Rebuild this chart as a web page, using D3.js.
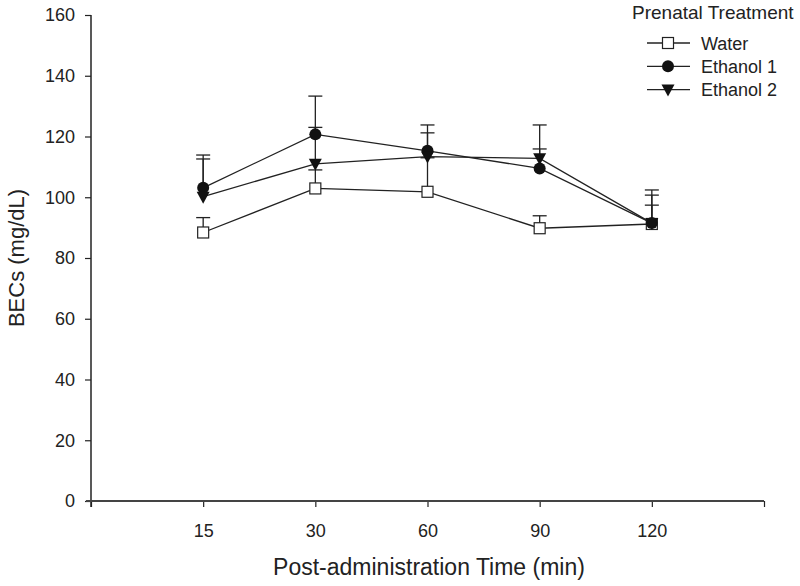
<!DOCTYPE html>
<html><head><meta charset="utf-8">
<script src="https://cdn.jsdelivr.net/npm/d3@7"></script>
<style>body{margin:0;background:#fff}svg{display:block}text{font-family:"Liberation Sans",Arial,sans-serif;fill:#222}</style>
</head><body><svg id="c" width="800" height="586"></svg>
<script>
const categories = ["15","30","60","90","120"];
const yTicks = [0,20,40,60,80,100,120,140,160];
const seriesNames = ["Water","Ethanol 1","Ethanol 2"];
const waterMean = [88.4,102.9,101.8,89.8,91.2];
const waterErr  = [93.3,109,113,93.9,97.4];
const eth1Mean  = [103.1,120.7,115.3,109.5,91.5];
const eth1Err   = [113.9,133.3,123.8,115.9,102.4];
const eth2Mean  = [100.2,111,113.4,112.8,91.5];
const eth2Err   = [112.6,123,121.2,123.8,100.7];

const svg = d3.select("#c");
const x0 = 91, x1 = 764, yTop = 15, yBot = 501;
const x = d3.scalePoint().domain(["", ...categories, " "]).range([x0, x1]);
const y = d3.scaleLinear().domain([0,160]).range([yBot, yTop]);

// axes
const yAxis = svg.append("g").attr("transform",`translate(${x0},0)`)
  .call(d3.axisLeft(y).tickValues(yTicks).tickSize(6).tickPadding(10));
yAxis.select(".domain").remove();
yAxis.append("line").attr("x1",0).attr("x2",0).attr("y1",yTop).attr("y2",yBot+6).attr("stroke","#222").attr("stroke-width",1.5);
yAxis.selectAll(".tick line").attr("stroke","#222").attr("stroke-width",1.2);
yAxis.selectAll(".tick text").style("font-size","18px").attr("fill","#222");

const xAxis = svg.append("g").attr("transform",`translate(0,${yBot})`)
  .call(d3.axisBottom(x).tickSize(6).tickPadding(17));
xAxis.select(".domain").remove();
xAxis.append("line").attr("x1",x0-5).attr("x2",x1).attr("y1",0).attr("y2",0).attr("stroke","#444").attr("stroke-width",2);
xAxis.selectAll(".tick line").attr("stroke","#222").attr("stroke-width",1.2);
xAxis.selectAll(".tick text").style("font-size","18px").attr("fill","#222");

svg.append("text").attr("x",429).attr("y",575).attr("text-anchor","middle").style("font-size","23px").text("Post-administration Time (min)");
svg.append("text").attr("transform","translate(24,258) rotate(-90)").attr("text-anchor","middle").style("font-size","22px").text("BECs (mg/dL)");

const series = [
  {name:seriesNames[0], mean:waterMean, err:waterErr, sym:"square"},
  {name:seriesNames[1], mean:eth1Mean, err:eth1Err, sym:"circle"},
  {name:seriesNames[2], mean:eth2Mean, err:eth2Err, sym:"tri"}
];
function drawSym(g, sym, cx, cy){
  if(sym==="square") g.append("rect").attr("x",cx-5.5).attr("y",cy-5.5).attr("width",11).attr("height",11).attr("fill","#fff").attr("stroke","#222").attr("stroke-width",1.2);
  else if(sym==="circle") g.append("circle").attr("cx",cx).attr("cy",cy).attr("r",6).attr("fill","#111");
  else g.append("path").attr("d",`M${cx-6.5},${cy-5}L${cx+6.5},${cy-5}L${cx},${cy+7}Z`).attr("fill","#111");
}
const plot = svg.append("g");
// error bars
series.forEach(s=>{
  categories.forEach((c,i)=>{
    const cx = x(c);
    plot.append("line").attr("x1",cx).attr("x2",cx).attr("y1",y(s.mean[i])).attr("y2",y(s.err[i])).attr("stroke","#222").attr("stroke-width",1.3);
    plot.append("line").attr("x1",cx-7).attr("x2",cx+7).attr("y1",y(s.err[i])).attr("y2",y(s.err[i])).attr("stroke","#222").attr("stroke-width",1.3);
  });
});
const line = d3.line().x((d,i)=>x(categories[i])).y(d=>y(d));
series.forEach(s=>{
  plot.append("path").attr("d",line(s.mean)).attr("fill","none").attr("stroke","#222").attr("stroke-width",1.3);
});
series.forEach(s=>{
  const g = plot.append("g");
  categories.forEach((c,i)=>drawSym(g,s.sym,x(c),y(s.mean[i])));
});

// legend
const leg = svg.append("g");
leg.append("text").attr("x",632).attr("y",19).style("font-size","19px").text("Prenatal Treatment");
series.forEach((s,i)=>{
  const ly = 43 + i*23.3;
  leg.append("line").attr("x1",647).attr("x2",690).attr("y1",ly).attr("y2",ly).attr("stroke","#222").attr("stroke-width",1.3);
  drawSym(leg, s.sym, 668, ly);
  leg.append("text").attr("x",701).attr("y",ly+6.5).style("font-size","18px").text(s.name);
});
</script></body></html>
